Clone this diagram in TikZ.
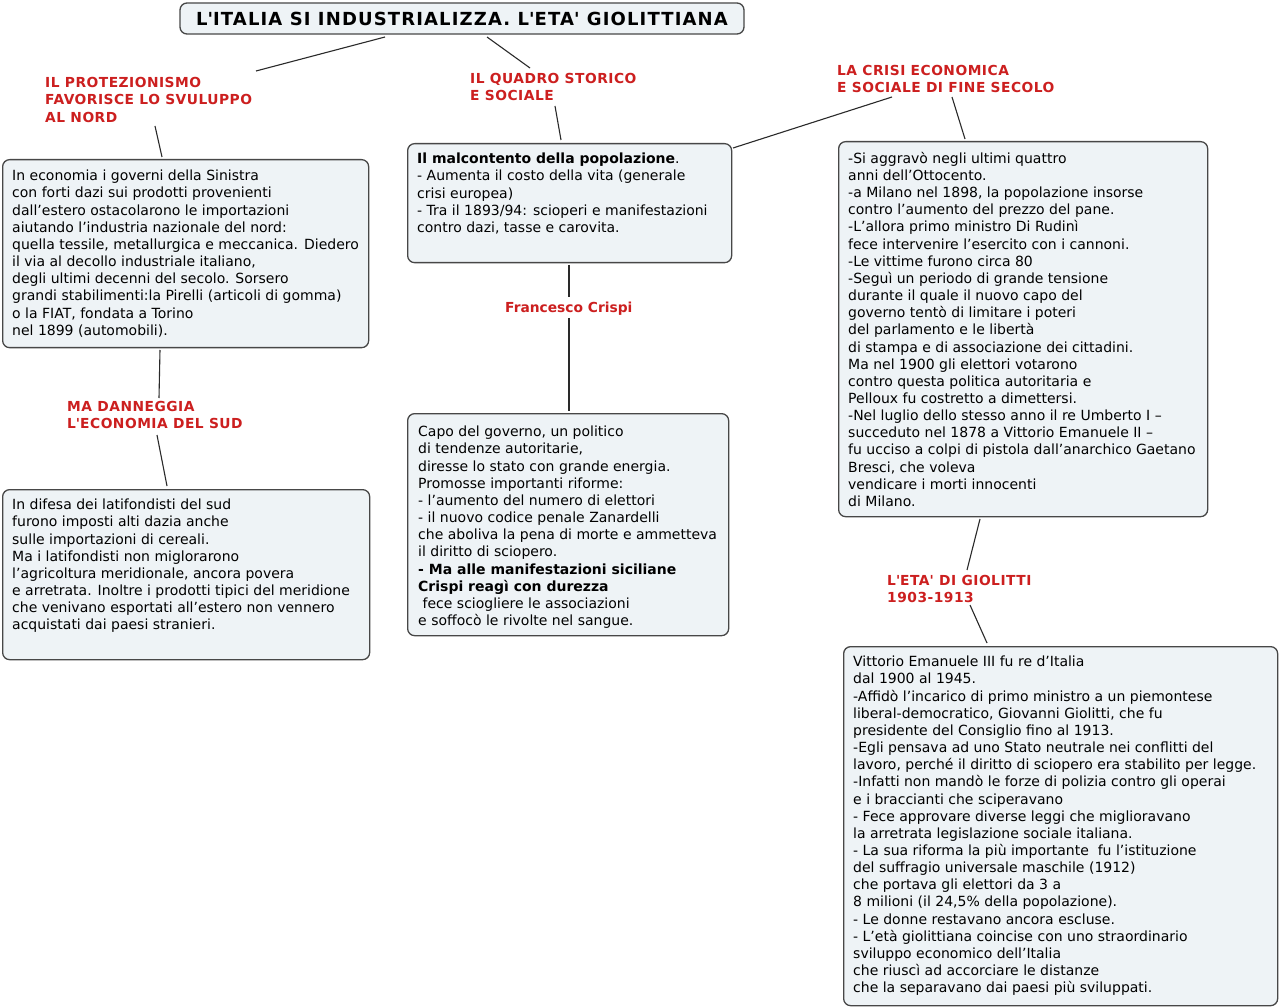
\documentclass[tikz,border=0pt]{standalone}
\usepackage{fontspec}
\setmainfont{DejaVu Sans}
\definecolor{boxfill}{HTML}{EEF3F6}
\definecolor{boxline}{HTML}{474747}
\definecolor{labred}{HTML}{CC1F1F}
\definecolor{conn}{HTML}{2A2A2A}
\tikzset{
  box/.style={draw=boxline, fill=boxfill, line width=1.3pt, rounded corners=7pt, anchor=north west, inner sep=0pt},
  boxtext/.style={anchor=north west, inner sep=0pt, align=left, font=\fontsize{14}{17.15}\selectfont, text=black},
  lab/.style={anchor=north west, inner sep=0pt, align=left, font=\fontsize{13.8}{17.3}\selectfont\bfseries\addfontfeature{LetterSpace=3.6}, text=labred},
  plainlab/.style={anchor=north west, inner sep=0pt, align=left, font=\fontsize{13.8}{17.3}\selectfont\bfseries, text=labred},
  connector/.style={draw=conn, line width=1.1pt},
}
\newcommand{\sq}{\textquotesingle}
\begin{document}
\begin{tikzpicture}[x=1pt,y=-1pt]
\useasboundingbox[fill=white] (0,0) rectangle (1280,1008);

% title
\node[box, anchor=center, minimum width=564pt, minimum height=31pt, font=\fontsize{18}{20}\selectfont\bfseries\addfontfeature{LetterSpace=6.3}] (title) at (462,18.5) {L\sq ITALIA SI INDUSTRIALIZZA. L\sq ETA\sq{} GIOLITTIANA};

% boxes
\node[box, minimum width=366pt, minimum height=188pt] (b1) at (2,159) {};
\node[box, minimum width=324pt, minimum height=119pt] (b2) at (407,143) {};
\node[box, minimum width=369pt, minimum height=375pt] (b3) at (838,141) {};
\node[box, minimum width=434pt, minimum height=359pt] (b4) at (843,646) {};
\node[box, minimum width=367pt, minimum height=170pt] (b5) at (2,489) {};
\node[box, minimum width=321pt, minimum height=222pt] (b6) at (407,413) {};

% box texts
\node[boxtext] (t1) at (12,170) {In economia i governi della Sinistra\\
con forti dazi sui prodotti provenienti\\
dall’estero ostacolarono le importazioni\\
aiutando l’industria nazionale del nord:\\
quella tessile, metallurgica e meccanica. Diedero\\
il via al decollo industriale italiano,\\
degli ultimi decenni del secolo. Sorsero\\
grandi stabilimenti:la Pirelli (articoli di gomma)\\
o la FIAT, fondata a Torino\\
nel 1899 (automobili).};

\node[boxtext] (t2) at (417,153) {\textbf{Il malcontento della popolazione}.\\
- Aumenta il costo della vita (generale\\
crisi europea)\\
- Tra il 1893/94: scioperi e manifestazioni\\
contro dazi, tasse e carovita.};

\node[boxtext] (t3) at (848,152) {-Si aggravò negli ultimi quattro\\
anni dell’Ottocento.\\
-a Milano nel 1898, la popolazione insorse\\
contro l’aumento del prezzo del pane.\\
-L’allora primo ministro Di Rudinì\\
fece intervenire l’esercito con i cannoni.\\
-Le vittime furono circa 80\\
-Seguì un periodo di grande tensione\\
durante il quale il nuovo capo del\\
governo tentò di limitare i poteri\\
del parlamento e le libertà\\
di stampa e di associazione dei cittadini.\\
Ma nel 1900 gli elettori votarono\\
contro questa politica autoritaria e\\
Pelloux fu costretto a dimettersi.\\
-Nel luglio dello stesso anno il re Umberto I –\\
succeduto nel 1878 a Vittorio Emanuele II –\\
fu ucciso a colpi di pistola dall’anarchico Gaetano\\
Bresci, che voleva\\
vendicare i morti innocenti\\
di Milano.};

\node[boxtext] (t4) at (853,656) {Vittorio Emanuele III fu re d’Italia\\
dal 1900 al 1945.\\
-Affidò l’incarico di primo ministro a un piemontese\\
liberal-democratico, Giovanni Giolitti, che fu\\
presidente del Consiglio fino al 1913.\\
-Egli pensava ad uno Stato neutrale nei conflitti del\\
lavoro, perché il diritto di sciopero era stabilito per legge.\\
-Infatti non mandò le forze di polizia contro gli operai\\
e i braccianti che sciperavano\\
- Fece approvare diverse leggi che miglioravano\\
la arretrata legislazione sociale italiana.\\
- La sua riforma la più importante\ \ fu l’istituzione\\
del suffragio universale maschile (1912)\\
che portava gli elettori da 3 a\\
8 milioni (il 24,5\% della popolazione).\\
- Le donne restavano ancora escluse.\\
- L’età giolittiana coincise con uno straordinario\\
sviluppo economico dell’Italia\\
che riuscì ad accorciare le distanze\\
che la separavano dai paesi più sviluppati.};

\node[boxtext] (t5) at (12,499) {In difesa dei latifondisti del sud\\
furono imposti alti dazia anche\\
sulle importazioni di cereali.\\
Ma i latifondisti non miglorarono\\
l’agricoltura meridionale, ancora povera\\
e arretrata. Inoltre i prodotti tipici del meridione\\
che venivano esportati all’estero non vennero\\
acquistati dai paesi stranieri.};

\node[boxtext] (t6) at (418,426) {Capo del governo, un politico\\
di tendenze autoritarie,\\
diresse lo stato con grande energia.\\
Promosse importanti riforme:\\
- l’aumento del numero di elettori\\
- il nuovo codice penale Zanardelli\\
che aboliva la pena di morte e ammetteva\\
il diritto di sciopero.\\
\textbf{- Ma alle manifestazioni siciliane}\\
\textbf{Crispi reagì con durezza}\\
\hspace*{0.32em}fece sciogliere le associazioni\\
e soffocò le rivolte nel sangue.};

% labels
\node[lab] (l1) at (45,77) {IL PROTEZIONISMO\\FAVORISCE LO SVULUPPO\\AL NORD};
\node[lab] (l2) at (470,73) {IL QUADRO STORICO\\E SOCIALE};
\node[lab] (l3) at (837,65) {LA CRISI ECONOMICA\\E SOCIALE DI FINE SECOLO};
\node[lab] (l4) at (67,401) {MA DANNEGGIA\\L\sq ECONOMIA DEL SUD};
\node[lab] (l5) at (887,575) {L\sq ETA\sq{} DI GIOLITTI\\1903-1913};
\node[plainlab] (l6) at (505,302) {Francesco Crispi};

% connector end points
\coordinate (c1a) at (385,37);  \coordinate (c1b) at (256,71);
\coordinate (c2a) at (487,37);  \coordinate (c2b) at (530,68);
\coordinate (c3a) at (155,126); \coordinate (c3b) at (162,157);
\coordinate (c4a) at (160,350); \coordinate (c4b) at (159,398);
\coordinate (c5a) at (157,435); \coordinate (c5b) at (167,486);
\coordinate (c6a) at (555,106); \coordinate (c6b) at (561,140);
\coordinate (c7a) at (733,148); \coordinate (c7b) at (892,97);
\coordinate (c8a) at (952,97);  \coordinate (c8b) at (965,139);
\coordinate (c9a) at (569,265); \coordinate (c9b) at (569,297);
\coordinate (c10a) at (569,318); \coordinate (c10b) at (569,411);
\coordinate (c11a) at (980,519); \coordinate (c11b) at (967,570);
\coordinate (c12a) at (970,605); \coordinate (c12b) at (987,643);

\draw[connector] (c1a) -- (c1b);
\draw[connector] (c2a) -- (c2b);
\draw[connector] (c3a) -- (c3b);
\draw[connector] (c4a) -- (c4b);
\draw[connector] (c5a) -- (c5b);
\draw[connector] (c6a) -- (c6b);
\draw[connector] (c7a) -- (c7b);
\draw[connector] (c8a) -- (c8b);
\draw[connector] (c9a) -- (c9b);
\draw[connector] (c10a) -- (c10b);
\draw[connector] (c11a) -- (c11b);
\draw[connector] (c12a) -- (c12b);
\end{tikzpicture}
\end{document}
